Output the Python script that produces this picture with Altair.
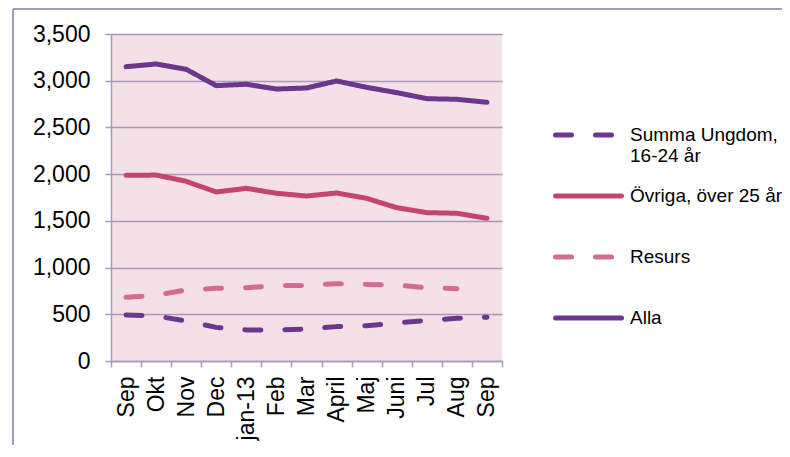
import json
import altair as alt
import pandas as pd

months = ["Sep", "Okt", "Nov", "Dec", "jan-13", "Feb", "Mar", "April", "Maj", "Juni", "Jul", "Aug", "Sep"]
series = ["Summa Ungdom, 16-24 år", "Övriga, över 25 år", "Resurs", "Alla"]
legend_text = ["Summa Ungdom,\n16-24 år", "Övriga, över 25 år", "Resurs", "Alla"]
ungdom = [492, 482, 428, 360, 332, 332, 343, 368, 378, 406, 435, 457, 468]
ovriga = [1987, 1990, 1923, 1809, 1848, 1795, 1766, 1798, 1741, 1641, 1588, 1581, 1527]
resurs = [682, 705, 760, 778, 785, 806, 810, 827, 820, 813, 785, 774, None]
alla = [3150, 3179, 3122, 2947, 2962, 2911, 2922, 2997, 2929, 2872, 2808, 2801, 2769]

colors = ["#6B378C", "#C4466F", "#D36C92", "#6B378C"]
dashes = [[16, 24], [1, 0], [16, 24], [1, 0]]
grid_col = "#A898BC"

rows = []
for name, vals in zip(series, [ungdom, ovriga, resurs, alla]):
    for i, v in enumerate(vals):
        if v is not None:
            rows.append({"idx": i, "serie": name, "value": v})
df = pd.DataFrame(rows)
leg_df = pd.DataFrame({"serie": series, "text": legend_text})

label_expr = json.dumps(months, ensure_ascii=False) + "[datum.value]"

color_enc = alt.Color("serie:N", scale=alt.Scale(domain=series, range=colors), legend=None)
dash_enc = alt.StrokeDash("serie:N", scale=alt.Scale(domain=series, range=dashes), legend=None)

lines = alt.Chart(df).mark_line(strokeWidth=5, strokeCap="round", strokeJoin="round").encode(
    x=alt.X("idx:O", title=None,
            axis=alt.Axis(labelExpr=label_expr, labelAngle=-90, labelFontSize=23,
                          labelFont="Liberation Sans", labelColor="#000000",
                          tickBand="extent", tickSize=6, tickColor=grid_col, tickWidth=1.5,
                          domainColor=grid_col, domainWidth=1.5, labelPadding=9, grid=False)),
    y=alt.Y("value:Q", title=None,
            scale=alt.Scale(domain=[0, 3500], nice=False),
            axis=alt.Axis(values=[0, 500, 1000, 1500, 2000, 2500, 3000, 3500], format=",.0f",
                          labelFontSize=23, labelFont="Liberation Sans", labelColor="#000000",
                          tickSize=6, tickColor=grid_col, tickWidth=1.5,
                          domainColor=grid_col, domainWidth=1.5, labelPadding=15,
                          gridColor=grid_col, gridWidth=1.5, gridOpacity=1)),
    color=color_enc,
    strokeDash=dash_enc,
    detail="serie:N",
)

# legend (right side), entries placed by a point scale over the series
leg_y = alt.Y("serie:N", title=None, axis=None,
              scale=alt.Scale(type="point", domain=series, range=[101, 284], padding=0))
leg_lines = alt.Chart(leg_df).mark_rule(strokeWidth=5, strokeCap="round").encode(
    x=alt.value(444.5), x2=alt.value(510.5), y=leg_y, color=color_enc, strokeDash=dash_enc)
leg_text = alt.Chart(leg_df).mark_text(align="left", baseline="middle", fontSize=19,
                                       font="Liberation Sans", color="#000000",
                                       lineBreak="\n", lineHeight=21).encode(
    x=alt.value(519), y=leg_y, text="text:N")
legend = alt.layer(leg_lines, leg_text)

frame = pd.DataFrame({"a": [0]})
frame_left = alt.Chart(frame).mark_rule(color=grid_col, strokeWidth=2).encode(
    x=alt.value(-98), x2=alt.value(-98), y=alt.value(-25), y2=alt.value(420))
frame_top = alt.Chart(frame).mark_rule(color=grid_col, strokeWidth=2).encode(
    x=alt.value(-98), x2=alt.value(671), y=alt.value(-25), y2=alt.value(-25))

chart = alt.layer(frame_left, frame_top, lines, legend).resolve_scale(y="independent").properties(
    width=391, height=327,
    autosize=alt.AutoSizeParams(type="none"),
    padding={"left": 103, "top": 26, "right": 280, "bottom": 84},
    background="#FFFFFF",
).configure_view(fill="#F4E1E8", stroke=None)

chart.save("out.html", embed_options={"renderer": "svg", "actions": False})
